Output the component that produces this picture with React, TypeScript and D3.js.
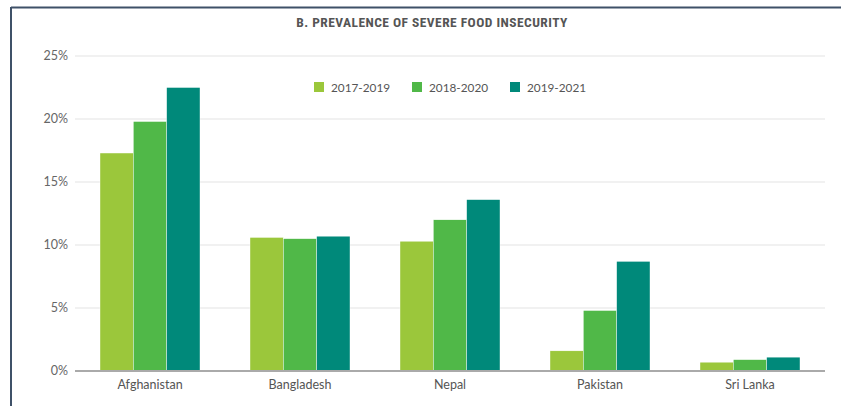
import React from "react";
import * as d3 from "d3";

const countries = ["Afghanistan", "Bangladesh", "Nepal", "Pakistan", "Sri Lanka"];
const periods = ["2017-2019", "2018-2020", "2019-2021"];
const s2017_2019 = [17.3, 10.6, 10.3, 1.6, 0.7];
const s2018_2020 = [19.8, 10.5, 12.0, 4.8, 0.9];
const s2019_2021 = [22.5, 10.7, 13.6, 8.7, 1.1];
const seriesValues = [s2017_2019, s2018_2020, s2019_2021];
const yTicks = [0, 5, 10, 15, 20, 25];
const colors = ["#9bc73b", "#50b848", "#00897a"];
const title = "B. PREVALENCE OF SEVERE FOOD INSECURITY";

export default function App() {
  const W = 841, H = 406;
  const left = 75, right = 825, top = 56, bottom = 371;
  const x = d3.scaleBand<string>().domain(countries).range([left, right]).paddingInner(1 / 3).paddingOuter(1 / 6);
  const xs = d3.scaleBand<string>().domain(periods).range([0, x.bandwidth()]);
  const y = d3.scaleLinear().domain([0, 25]).range([bottom, top]);
  const font = "Lato, 'Open Sans', sans-serif";
  const legendX = [314, 412, 510];
  return (
    <svg width={W} height={H} style={{ position: "absolute", left: 0, top: 0, background: "#fff" }}>
      <line x1={11} y1={7.5} x2={W} y2={7.5} stroke="#3f5168" strokeWidth={2} />
      <line x1={11} y1={7} x2={11} y2={H} stroke="#3f5168" strokeWidth={2} />
      <text x={432} y={27} textAnchor="middle" fontFamily="'Liberation Sans Narrow', 'Roboto Condensed', sans-serif" fontWeight="bold" fontSize={13.5} letterSpacing={0.45} fill="#555">{title}</text>
      {yTicks.map((t) => (
        <g key={t}>
          {t > 0 && <line x1={left} x2={right} y1={y(t)} y2={y(t)} stroke="#e3e3e3" strokeWidth={1} />}
          <text x={68} y={y(t) + 4} textAnchor="end" fontFamily={font} fontSize={12.5} fill="#666">{t}%</text>
        </g>
      ))}
      {countries.map((c, i) => (
        <g key={c}>
          {seriesValues.map((vals, j) => (
            <rect key={j} x={(x(c) as number) + (xs(periods[j]) as number)} width={xs.bandwidth()} y={y(vals[i])} height={bottom - y(vals[i])} fill={colors[j]} stroke="#ffffff" strokeWidth={0.4} />
          ))}
          <text x={(x(c) as number) + x.bandwidth() / 2} y={389} textAnchor="middle" fontFamily={font} fontSize={12.5} fill="#555">{c}</text>
        </g>
      ))}
      <line x1={left} x2={right} y1={bottom} y2={bottom} stroke="#aaa" strokeWidth={2} />
      {periods.map((p, j) => (
        <g key={p}>
          <rect x={legendX[j]} y={82} width={10} height={10} fill={colors[j]} />
          <text x={legendX[j] + 17} y={91.5} fontFamily={font} fontSize={11.8} fill="#555">{p}</text>
        </g>
      ))}
    </svg>
  );
}
